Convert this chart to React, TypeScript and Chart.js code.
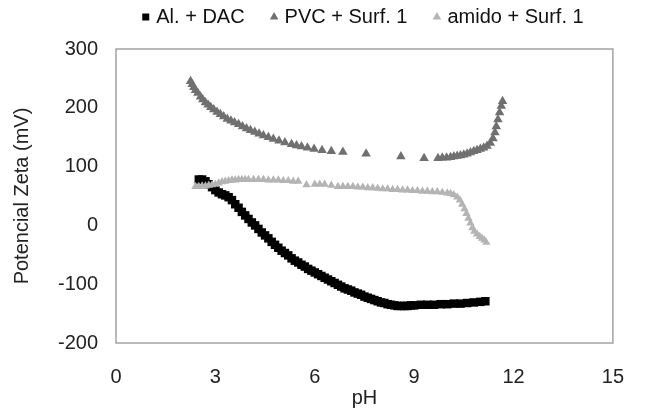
import { useEffect, useRef } from 'react';
import { Chart, registerables } from 'chart.js';

Chart.register(...registerables);

const seriesNames = ['Al. + DAC', 'PVC + Surf. 1', 'amido + Surf. 1'];

const alDacPH = [
  2.5, 2.6, 2.7, 2.8, 2.9, 3.0, 3.1, 3.2, 3.3, 3.4, 3.5, 3.6, 3.7, 3.8, 3.9, 4.0, 4.1, 4.2, 4.3, 4.4,
  4.5, 4.6, 4.7, 4.8, 4.9, 5.0, 5.1, 5.2, 5.3, 5.4, 5.5, 5.6, 5.7, 5.8, 5.9, 6.0, 6.1, 6.2, 6.3, 6.4,
  6.5, 6.6, 6.7, 6.8, 6.9, 7.0, 7.1, 7.2, 7.3, 7.4, 7.5, 7.6, 7.7, 7.8, 7.9, 8.0, 8.1, 8.2, 8.3, 8.4,
  8.5, 8.6, 8.7, 8.8, 8.9, 9.0, 9.2, 9.4, 9.6, 9.8, 10.0, 10.2, 10.4, 10.6, 10.8, 11.0, 11.15,
];
const alDacZeta = [
  78, 78, 75, 70, 65, 60, 56, 53, 51, 48, 43, 36, 30, 23, 17, 11, 5, 0, -6, -12,
  -17, -22, -28, -33, -38, -43, -47, -51, -56, -60, -63, -67, -70, -74, -77, -80, -83, -86, -89, -92,
  -95, -98, -101, -104, -107, -109, -111, -114, -116, -118, -121, -123, -125, -127, -129, -131, -132, -134, -135, -136,
  -137, -137, -137, -137, -136, -136, -135, -135, -135, -134, -134, -133, -133, -132, -131, -130, -129,
];

const pvcPH = [
  2.25, 2.3, 2.35, 2.4, 2.47, 2.55, 2.62, 2.7, 2.78, 2.86, 2.95, 3.05, 3.15, 3.25, 3.36, 3.47, 3.58, 3.7,
  3.82, 3.94, 4.06, 4.19, 4.32, 4.45, 4.6, 4.75, 4.92, 5.1, 5.3, 5.45, 5.6, 5.78, 5.98, 6.22, 6.5, 6.85,
  7.55, 8.6, 9.3, 9.72, 9.85, 9.98, 10.1, 10.2, 10.3, 10.4, 10.5, 10.6, 10.7, 10.8, 10.9, 11.0, 11.1, 11.2,
  11.3, 11.38, 11.44, 11.48, 11.53, 11.58, 11.63, 11.67,
];
const pvcZeta = [
  245, 240, 235, 230, 225, 219, 214, 209, 205, 201, 197, 193, 189, 185, 181, 178, 175, 172,
  168, 165, 162, 159, 156, 153, 150, 147, 144, 141, 138, 136, 134, 132, 130, 128, 126, 125,
  122, 117, 114, 114, 115, 115, 116, 117, 118, 119, 120, 122, 124, 126, 128, 130, 132, 135,
  140, 148, 158, 168, 180, 192, 203, 211,
];

const amidoPH = [
  2.4, 2.5, 2.6, 2.7, 2.8, 2.9, 3.0, 3.1, 3.2, 3.3, 3.4, 3.5, 3.6, 3.7, 3.8, 3.9, 4.0, 4.15, 4.3, 4.45,
  4.6, 4.75, 4.9, 5.05, 5.2, 5.35, 5.5, 5.75, 6.0, 6.15, 6.3, 6.5, 6.7, 6.85, 7.0, 7.15, 7.3, 7.45, 7.6, 7.75,
  7.9, 8.05, 8.2, 8.35, 8.5, 8.65, 8.8, 8.95, 9.1, 9.25, 9.4, 9.55, 9.7, 9.85, 10.0, 10.1, 10.2, 10.3, 10.38, 10.45,
  10.52, 10.58, 10.64, 10.7, 10.76, 10.82, 10.9, 10.98, 11.05, 11.12, 11.18,
];
const amidoZeta = [
  66, 66, 67, 67, 68, 69, 70, 72, 74, 75, 76, 77, 77, 78, 78, 78, 78, 78, 78, 78,
  77, 77, 77, 76, 76, 75, 75, 69, 70, 70, 70, 68, 66, 66, 66, 66, 65, 65, 64, 64,
  63, 62, 62, 61, 61, 60, 60, 59, 59, 58, 58, 57, 57, 56, 55, 54, 52, 48, 43, 36,
  28, 20, 12, 4, -4, -10, -15, -19, -22, -25, -29,
];

const xTicks = [0, 3, 6, 9, 12, 15];
const yTicks = [-200, -100, 0, 100, 200, 300];

const toPoints = (xs: number[], ys: number[]) => xs.map((x, i) => ({ x, y: ys[i] }));

const FONT = "'Liberation Sans', Arial, sans-serif";

const boxPlugin = {
  id: 'plotBox',
  beforeDatasetsDraw(chart: any) {
    const { ctx, chartArea } = chart;
    ctx.save();
    ctx.strokeStyle = '#a3a3a3';
    ctx.lineWidth = 1.5;
    ctx.strokeRect(chartArea.left, chartArea.top, chartArea.right - chartArea.left, chartArea.bottom - chartArea.top);
    ctx.restore();
  },
};

export default function App() {
  const ref = useRef<HTMLCanvasElement | null>(null);

  useEffect(() => {
    if (!ref.current) return;
    const chart = new Chart(ref.current, {
      type: 'scatter',
      data: {
        datasets: [
          {
            label: seriesNames[0],
            data: toPoints(alDacPH, alDacZeta),
            pointStyle: 'rect',
            pointRadius: 6,
            pointHoverRadius: 6,
            backgroundColor: '#000000',
            borderColor: '#000000',
            borderWidth: 0,
            order: 2,
          },
          {
            label: seriesNames[1],
            data: toPoints(pvcPH, pvcZeta),
            pointStyle: 'triangle',
            pointRadius: 5.5,
            pointHoverRadius: 5.5,
            backgroundColor: '#707070',
            borderColor: '#707070',
            borderWidth: 0,
            order: 1,
          },
          {
            label: seriesNames[2],
            data: toPoints(amidoPH, amidoZeta),
            pointStyle: 'triangle',
            pointRadius: 4.8,
            pointHoverRadius: 4.8,
            backgroundColor: '#b4b4b4',
            borderColor: '#b4b4b4',
            borderWidth: 0,
            order: 0,
          },
        ],
      },
      options: {
        responsive: false,
        animation: false,
        events: [],
        layout: { padding: { top: -22, right: 14, left: 0, bottom: 0 } },
        font: { family: FONT },
        plugins: {
          tooltip: { enabled: false },
          legend: {
            position: 'top',
            fullSize: false,
            labels: {
              usePointStyle: true,
              boxWidth: 1,
              boxHeight: 7,
              padding: 29,
              color: '#111111',
              font: { family: FONT, size: 20 },
              sort: (a: any, b: any) => a.datasetIndex - b.datasetIndex,
            },
          },
          title: {
            display: true,
            text: '',
            weight: 500,
            padding: 0,
            font: { size: 10 },
          } as any,
        },
        scales: {
          x: {
            type: 'linear',
            min: 0,
            max: 15,
            afterFit: (s: any) => { s.height = 65; },
            afterBuildTicks: (s: any) => { s.ticks = xTicks.map((v) => ({ value: v })); },
            grid: { display: false, drawTicks: false },
            border: { display: false },
            ticks: { padding: 22, color: '#222222', font: { family: FONT, size: 20 } },
            title: {
              display: true,
              text: 'pH',
              color: '#222222',
              padding: { top: 0, bottom: -2 },
              font: { family: FONT, size: 20 },
            },
          },
          y: {
            type: 'linear',
            min: -200,
            max: 300,
            afterFit: (s: any) => { s.width = 116; },
            afterBuildTicks: (s: any) => { s.ticks = yTicks.map((v) => ({ value: v })); },
            grid: { display: false, drawTicks: false },
            border: { display: false },
            ticks: { padding: 18, color: '#222222', font: { family: FONT, size: 20 } },
            title: {
              display: true,
              text: 'Potencial Zeta (mV)',
              color: '#222222',
              padding: { top: 10, bottom: 0 },
              font: { family: FONT, size: 20 },
            },
          },
        },
      } as any,
      plugins: [boxPlugin],
    });
    return () => chart.destroy();
  }, []);

  return (
    <div style={{ position: 'fixed', left: 0, top: 0, width: 646, height: 408, overflow: 'hidden', background: '#fff' }}>
      <canvas ref={ref} width={646} height={408} style={{ display: 'block' }} />
    </div>
  );
}
